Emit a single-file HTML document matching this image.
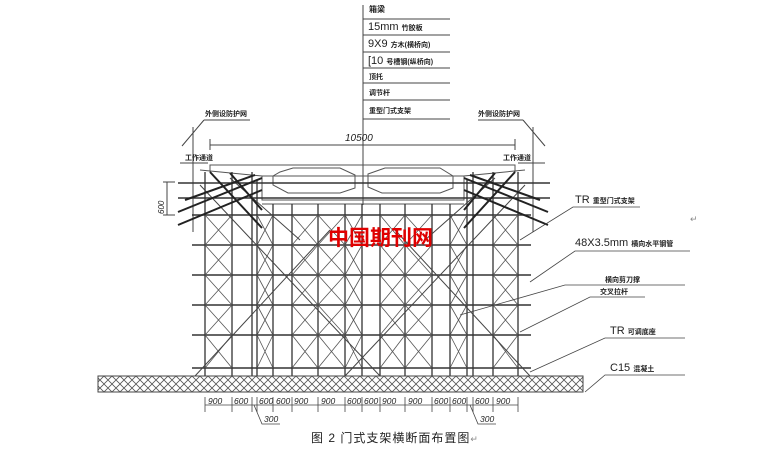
<!DOCTYPE html>
<html><head><meta charset="utf-8"><style>
html,body{margin:0;padding:0;background:#fff;}
svg{display:block;}
text{font-family:"Liberation Sans","Noto Sans CJK SC",sans-serif;fill:#222;}
</style></head><body>
<svg width="771" height="452" viewBox="0 0 771 452" xmlns="http://www.w3.org/2000/svg">
<defs>
<pattern id="hatch" width="8" height="8" patternUnits="userSpaceOnUse">
<path d="M0 0L8 8M8 0L0 8" stroke="#555" stroke-width="0.8"/>
</pattern>
</defs>
<g stroke="#444" stroke-width="1" fill="none">
<line x1="363" y1="5" x2="363" y2="205"/>
<line x1="363" y1="19" x2="450" y2="19"/>
<line x1="363" y1="35" x2="450" y2="35"/>
<line x1="363" y1="52" x2="450" y2="52"/>
<line x1="363" y1="68" x2="450" y2="68"/>
<line x1="363" y1="83" x2="450" y2="83"/>
<line x1="363" y1="100" x2="450" y2="100"/>
<line x1="363" y1="119" x2="450" y2="119"/>
</g>
<g font-size="8">
<text x="369" y="12" font-weight="bold">箱梁</text>
<text x="368" y="30" font-size="11">15mm <tspan font-size="7" font-weight="bold">竹胶板</tspan></text>
<text x="368" y="47" font-size="11">9X9 <tspan font-size="7" font-weight="bold">方木(横桥向)</tspan></text>
<text x="368" y="64" font-size="11">[10 <tspan font-size="7" font-weight="bold">号槽钢(纵桥向)</tspan></text>
<text x="369" y="79" font-size="7" font-weight="bold">顶托</text>
<text x="369" y="95" font-size="7" font-weight="bold">调节杆</text>
<text x="369" y="113" font-size="7" font-weight="bold">重型门式支架</text>
</g>
<g stroke="#444" stroke-width="1" fill="none">
<line x1="204" y1="120" x2="250" y2="120"/>
<line x1="204" y1="120" x2="182" y2="146"/>
<line x1="478" y1="120" x2="523" y2="120"/>
<line x1="523" y1="120" x2="545" y2="146"/>
<line x1="193" y1="127" x2="193" y2="232"/>
<line x1="533" y1="127" x2="533" y2="232"/>
<line x1="210" y1="145" x2="515" y2="145"/>
<line x1="210" y1="139" x2="210" y2="150"/>
<line x1="515" y1="139" x2="515" y2="150"/>
<line x1="180" y1="163" x2="208" y2="163"/>
<line x1="518" y1="163" x2="545" y2="163"/>
<line x1="167" y1="182" x2="167" y2="215"/>
<line x1="163" y1="182" x2="175" y2="182"/>
<line x1="163" y1="215" x2="175" y2="215"/>
</g>
<text x="205" y="116" font-size="7" font-weight="bold">外侧设防护网</text>
<text x="478" y="116" font-size="7" font-weight="bold">外侧设防护网</text>
<text x="345" y="141" font-size="10" font-style="italic">10500</text>
<text x="185" y="160" font-size="7" font-weight="bold">工作通道</text>
<text x="503" y="160" font-size="7" font-weight="bold">工作通道</text>
<text x="164" y="214" font-size="8" font-style="italic" transform="rotate(-90 164 214)">600</text>
<g stroke="#555" stroke-width="1" fill="none">
<path d="M210 172 L210 165 L515 165 L515 172"/>
<path d="M200 170 L262 176 L262 200 L464 200 L464 176 L525 170"/>
<line x1="262" y1="176" x2="464" y2="176"/>
<polygon points="280,172 293,168 340,168 355,175 355,188 340,193 288,193 273,185 273,176"/>
<polygon points="385,168 440,168 453,176 453,188 440,193 382,193 368,187 368,174"/>
<line x1="262" y1="204" x2="464" y2="204"/>
</g>
<g stroke="#333" stroke-width="1.6">
<line x1="178" y1="183" x2="550" y2="183"/>
<line x1="178" y1="198" x2="550" y2="198"/>
<line x1="192" y1="215" x2="531" y2="215"/>
<line x1="192" y1="245" x2="531" y2="245"/>
<line x1="192" y1="275" x2="531" y2="275"/>
<line x1="192" y1="305" x2="531" y2="305"/>
<line x1="192" y1="335" x2="531" y2="335"/>
<line x1="192" y1="368" x2="531" y2="368"/>
</g>
<g stroke="#333" stroke-width="1.3">
<line x1="205" y1="172" x2="205" y2="376"/>
<line x1="232" y1="172" x2="232" y2="376"/>
<line x1="252" y1="172" x2="252" y2="376"/>
<line x1="257" y1="180" x2="257" y2="376"/>
<line x1="273" y1="204" x2="273" y2="376"/>
<line x1="292" y1="204" x2="292" y2="376"/>
<line x1="318" y1="204" x2="318" y2="376"/>
<line x1="345" y1="204" x2="345" y2="376"/>
<line x1="362" y1="204" x2="362" y2="376"/>
<line x1="380" y1="204" x2="380" y2="376"/>
<line x1="405" y1="204" x2="405" y2="376"/>
<line x1="432" y1="204" x2="432" y2="376"/>
<line x1="450" y1="204" x2="450" y2="376"/>
<line x1="467" y1="180" x2="467" y2="376"/>
<line x1="473" y1="172" x2="473" y2="376"/>
<line x1="493" y1="172" x2="493" y2="376"/>
<line x1="518" y1="172" x2="518" y2="376"/>
</g>
<g stroke="#555" stroke-width="0.8">
<path d="M205 215L232 245M232 215L205 245M205 245L232 275M232 245L205 275M205 275L232 305M232 275L205 305M205 305L232 335M232 305L205 335M205 335L232 368M232 335L205 368"/>
<path d="M257 215L273 245M273 215L257 245M257 245L273 275M273 245L257 275M257 275L273 305M273 275L257 305M257 305L273 335M273 305L257 335M257 335L273 368M273 335L257 368"/>
<path d="M292 215L318 245M318 215L292 245M292 245L318 275M318 245L292 275M292 275L318 305M318 275L292 305M292 305L318 335M318 305L292 335M292 335L318 368M318 335L292 368"/>
<path d="M318 215L345 245M345 215L318 245M318 245L345 275M345 245L318 275M318 275L345 305M345 275L318 305M318 305L345 335M345 305L318 335M318 335L345 368M345 335L318 368"/>
<path d="M380 215L405 245M405 215L380 245M380 245L405 275M405 245L380 275M380 275L405 305M405 275L380 305M380 305L405 335M405 305L380 335M380 335L405 368M405 335L380 368"/>
<path d="M405 215L432 245M432 215L405 245M405 245L432 275M432 245L405 275M405 275L432 305M432 275L405 305M405 305L432 335M432 305L405 335M405 335L432 368M432 335L405 368"/>
<path d="M450 215L467 245M467 215L450 245M450 245L467 275M467 245L450 275M450 275L467 305M467 275L450 305M450 305L467 335M467 305L450 335M450 335L467 368M467 335L450 368"/>
<path d="M493 215L518 245M518 215L493 245M493 245L518 275M518 245L493 275M493 275L518 305M518 275L493 305M493 305L518 335M518 305L493 335M493 335L518 368M518 335L493 368"/>
<path d="M345 215L362 245M362 215L345 245M345 245L362 275M362 245L345 275M345 275L362 305M362 275L345 305M345 305L362 335M362 305L345 335M345 335L362 368M362 335L345 368"/>
</g>
<g stroke="#444" stroke-width="1">
<line x1="200" y1="185" x2="380" y2="376"/>
<line x1="230" y1="178" x2="300" y2="240"/>
<line x1="525" y1="185" x2="345" y2="376"/>
<line x1="495" y1="178" x2="425" y2="240"/>
<line x1="195" y1="376" x2="330" y2="230"/>
<line x1="530" y1="376" x2="395" y2="230"/>
</g>
<g stroke="#222" stroke-width="2">
<line x1="178" y1="225" x2="262" y2="190"/>
<line x1="178" y1="212" x2="262" y2="178"/>
<line x1="185" y1="200" x2="255" y2="175"/>
<line x1="548" y1="225" x2="464" y2="190"/>
<line x1="548" y1="212" x2="464" y2="178"/>
<line x1="540" y1="200" x2="470" y2="175"/>
<line x1="210" y1="172" x2="262" y2="228"/>
<line x1="230" y1="173" x2="262" y2="210"/>
<line x1="515" y1="172" x2="464" y2="228"/>
<line x1="495" y1="173" x2="464" y2="210"/>
</g>
<text x="328" y="245" font-size="21" font-weight="bold" style="fill:#e00000" font-family="'Noto Sans CJK SC',sans-serif">中国期刊网</text>
<rect x="98" y="376" width="485" height="16" fill="url(#hatch)" stroke="#444" stroke-width="1"/>
<g stroke="#444" stroke-width="0.8">
<line x1="205" y1="405" x2="518" y2="405"/>
<path d="M205 397V412M232 397V412M252 397V412M257 397V412M273 397V412M292 397V412M318 397V412M345 397V412M362 397V412M380 397V412M405 397V412M432 397V412M450 397V412M467 397V412M473 397V412M493 397V412M518 397V412"/>
<path d="M254 405L262 424H280M470 405L478 424H496" fill="none"/>
</g>
<g font-size="8.5" font-style="italic">
<text x="208" y="404">900</text><text x="234" y="404">600</text>
<text x="259" y="404">600</text><text x="276" y="404">600</text><text x="294" y="404">900</text>
<text x="321" y="404">900</text><text x="347" y="404">600</text><text x="364" y="404">600</text>
<text x="382" y="404">900</text><text x="408" y="404">900</text><text x="434" y="404">600</text>
<text x="452" y="404">600</text><text x="475" y="404">600</text><text x="496" y="404">900</text>
<text x="264" y="422">300</text><text x="480" y="422">300</text>
</g>
<g stroke="#444" stroke-width="0.8" fill="none">
<path d="M520 240L573 207H640"/>
<path d="M530 282L575 251H690"/>
<path d="M460 315L565 285H685"/>
<path d="M520 332L590 297H645"/>
<path d="M530 372L605 338H685"/>
<path d="M585 392L605 375H685"/>
</g>
<text x="575" y="203" font-size="11">TR <tspan font-size="7" font-weight="bold">重型门式支架</tspan></text>
<text x="575" y="246" font-size="11">48X3.5mm <tspan font-size="7" font-weight="bold">横向水平钢管</tspan></text>
<text x="605" y="282" font-size="7" font-weight="bold">横向剪刀撑</text>
<text x="600" y="294" font-size="7" font-weight="bold">交叉拉杆</text>
<text x="610" y="334" font-size="11">TR <tspan font-size="7" font-weight="bold">可调底座</tspan></text>
<text x="610" y="371" font-size="11">C15 <tspan font-size="7" font-weight="bold">混凝土</tspan></text>
<text x="690" y="222" font-size="9" style="fill:#888">↵</text>
<text x="311" y="442" font-size="12" letter-spacing="1">图 2 门式支架横断面布置图<tspan style="fill:#888" font-size="9">↵</tspan></text>
</svg>
</body></html>
